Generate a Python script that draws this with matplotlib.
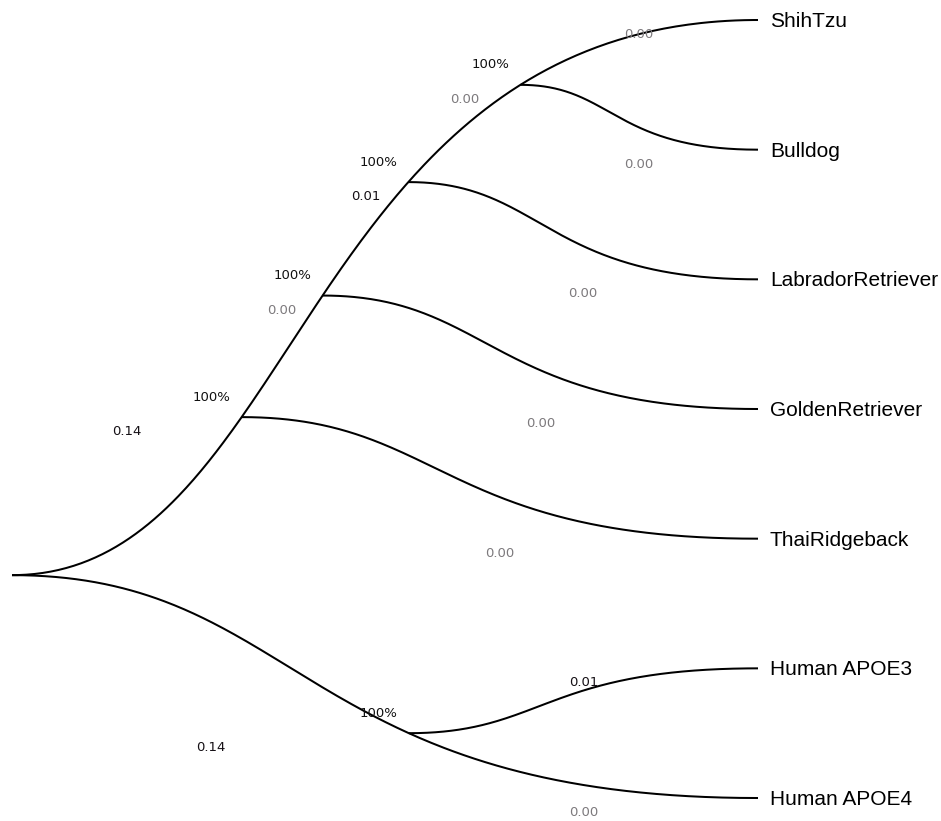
import numpy as np
import matplotlib.pyplot as plt

# --- tree: leaves top to bottom, clades with their two children ---
leaves = ["ShihTzu", "Bulldog", "LabradorRetriever", "GoldenRetriever",
          "ThaiRidgeback", "Human APOE3", "Human APOE4"]
leaf_lengths = [0.00, 0.00, 0.00, 0.00, 0.00, 0.01, 0.00]

clades = ["c1", "c2", "c3", "c4", "c5"]
clade_children = [("ShihTzu", "Bulldog"),
                  ("LabradorRetriever", "c1"),
                  ("GoldenRetriever", "c2"),
                  ("ThaiRidgeback", "c3"),
                  ("Human APOE3", "Human APOE4")]
clade_lengths = [0.00, 0.01, 0.00, 0.14, 0.14]
clade_support = [100, 100, 100, 100, 100]
root_children = ("c4", "c5")

# --- layout helpers ---
children = dict(zip(clades, clade_children))
children["root"] = root_children
blen = dict(zip(leaves, leaf_lengths))
blen.update(zip(clades, clade_lengths))
support = dict(zip(clades, clade_support))
parent = {c: n for n, ch in children.items() for c in ch}

ypos = {name: float(i) for i, name in enumerate(leaves)}


def set_y(n):
    if n not in ypos:
        ypos[n] = float(np.mean([set_y(c) for c in children[n]]))
    return ypos[n]


set_y("root")
xpos = {"root": 0.0}

K = 0.386        # bezier handle length as a fraction of the horizontal span
LINE = dict(color="black", lw=1.45, solid_capstyle="butt")
PX = 0.72        # points per pixel at dpi 100


def curve(p0, p1, num=300):
    t = np.linspace(0, 1, num)
    x0, y0 = p0
    x1, y1 = p1
    cx = x0 + K * (x1 - x0)
    bx = (1 - t) ** 3 * x0 + 3 * t * (1 - t) ** 2 * cx + 3 * t ** 2 * (1 - t) * cx + t ** 3 * x1
    by = y0 + (y1 - y0) * (3 * t ** 2 - 2 * t ** 3)
    return bx, by


def outer(n, up):
    while n in children:
        kids = sorted(children[n], key=lambda c: ypos[c])
        n = kids[0] if up else kids[-1]
    return n


def contains(n, leaf):
    if n == leaf:
        return True
    return n in children and any(contains(c, leaf) for c in children[n])


def draw_path(ax, start, n):
    # one smooth stroke runs to the outermost leaf, inner nodes sit on it
    up = ypos[n] < start[1]
    target = outer(n, up)
    bx, by = curve(start, (1.0, ypos[target]))
    ax.plot(bx, by, **LINE)
    order = np.argsort(by)
    while n in children:
        xpos[n] = float(np.interp(ypos[n], by[order], bx[order]))
        for c in children[n]:
            if not contains(c, target):
                draw_path(ax, (xpos[n], ypos[n]), c)
        n = next(c for c in children[n] if contains(c, target))
    xpos[n] = 1.0


fig = plt.figure(figsize=(9.41, 8.21), dpi=100)
ax = fig.add_axes([0, 0, 1, 1])
ax.set_xlim(-12 / 746, 929 / 746)
ax.set_ylim(801 / 129.67, -20 / 129.67)
ax.axis("off")

for c in root_children:
    draw_path(ax, (0.0, ypos["root"]), c)

small = dict(family="DejaVu Sans", fontsize=9.5, ha="center", va="center",
             textcoords="offset points")

# branch lengths, below each branch near its middle
for n, p in parent.items():
    mid = (xpos[p] + xpos[n]) / 2
    col = "#7d7a7d" if blen[n] == 0 else "#151015"
    ax.annotate(f"{blen[n]:.2f}", (mid, ypos[n]), xytext=(0, -14.5 * PX),
                color=col, **small)

# bootstrap support at each clade
for n in clades:
    ax.annotate(f"{support[n]}%", (xpos[n], ypos[n]),
                xytext=(-30 * PX, 20 * PX), color="#111111", **small)

# leaf names
for name in leaves:
    ax.annotate(name, (1.0, ypos[name]), xytext=(12 * PX, -1.5 * PX),
                textcoords="offset points", ha="left", va="center",
                family="Liberation Sans", fontsize=15, color="black")

fig.savefig("out.png", dpi=100)
